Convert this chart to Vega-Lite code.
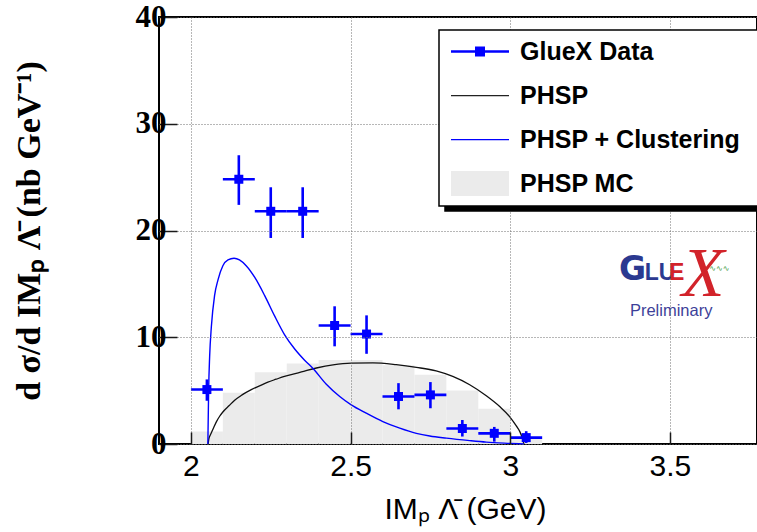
{
  "$schema": "https://vega.github.io/schema/vega-lite/v6.json",
  "width": 598,
  "height": 427,
  "autosize": "none",
  "padding": {"left": 159, "top": 17, "right": 0, "bottom": 88},
  "background": "white",
  "config": {
    "view": {"stroke": "black", "strokeWidth": 2},
    "legend": {"strokeWidth": 1.5}
  },
  "datasets": {
    "mc": [
      {"lo": 2.0, "hi": 2.1, "n": 1.16},
      {"lo": 2.1, "hi": 2.2, "n": 4.8},
      {"lo": 2.2, "hi": 2.3, "n": 6.72},
      {"lo": 2.3, "hi": 2.4, "n": 7.53},
      {"lo": 2.4, "hi": 2.5, "n": 7.88},
      {"lo": 2.5, "hi": 2.6, "n": 7.88},
      {"lo": 2.6, "hi": 2.7, "n": 7.37},
      {"lo": 2.7, "hi": 2.8, "n": 6.49},
      {"lo": 2.8, "hi": 2.9, "n": 5.02},
      {"lo": 2.9, "hi": 3.0, "n": 3.3},
      {"lo": 3.0, "hi": 3.1, "n": 0.5}
    ],
    "phsp": [
      {"im": 2.054, "v": 0}, {"im": 2.056, "v": 0.45}, {"im": 2.06, "v": 0.8}, {"im": 2.064, "v": 1.05},
      {"im": 2.072, "v": 1.6}, {"im": 2.08, "v": 2.1}, {"im": 2.09, "v": 2.6}, {"im": 2.1, "v": 3.0},
      {"im": 2.12, "v": 3.6}, {"im": 2.137, "v": 4.1}, {"im": 2.16, "v": 4.6}, {"im": 2.189, "v": 5.1},
      {"im": 2.215, "v": 5.45}, {"im": 2.241, "v": 5.8}, {"im": 2.267, "v": 6.07}, {"im": 2.293, "v": 6.33},
      {"im": 2.32, "v": 6.55}, {"im": 2.346, "v": 6.75}, {"im": 2.393, "v": 7.12}, {"im": 2.445, "v": 7.42},
      {"im": 2.502, "v": 7.58}, {"im": 2.57, "v": 7.6}, {"im": 2.643, "v": 7.43}, {"im": 2.706, "v": 7.18},
      {"im": 2.768, "v": 6.85}, {"im": 2.82, "v": 6.33}, {"im": 2.873, "v": 5.55}, {"im": 2.925, "v": 4.52},
      {"im": 2.967, "v": 3.51}, {"im": 2.998, "v": 2.57}, {"im": 3.019, "v": 1.69}, {"im": 3.03, "v": 1.16},
      {"im": 3.038, "v": 0.55}, {"im": 3.043, "v": 0}
    ],
    "clus": [
      {"im": 2.053, "v": 0}, {"im": 2.0555, "v": 5.1}, {"im": 2.0586, "v": 8.2}, {"im": 2.064, "v": 11.0},
      {"im": 2.074, "v": 13.9}, {"im": 2.085, "v": 15.4}, {"im": 2.1, "v": 16.7}, {"im": 2.116, "v": 17.25},
      {"im": 2.135, "v": 17.4}, {"im": 2.152, "v": 17.25}, {"im": 2.173, "v": 16.7}, {"im": 2.2, "v": 15.6},
      {"im": 2.231, "v": 13.9}, {"im": 2.262, "v": 12.0}, {"im": 2.293, "v": 10.25}, {"im": 2.325, "v": 8.9},
      {"im": 2.356, "v": 7.85}, {"im": 2.383, "v": 7.05}, {"im": 2.424, "v": 5.6}, {"im": 2.466, "v": 4.45},
      {"im": 2.502, "v": 3.67}, {"im": 2.549, "v": 2.89}, {"im": 2.601, "v": 2.1}, {"im": 2.654, "v": 1.48},
      {"im": 2.706, "v": 1.0}, {"im": 2.748, "v": 0.75}, {"im": 2.8, "v": 0.55}, {"im": 2.873, "v": 0.32},
      {"im": 2.925, "v": 0.18}, {"im": 3.0, "v": 0.06}, {"im": 3.043, "v": 0}
    ],
    "gluex": [
      {"im": 2.05, "lo": 2.0, "hi": 2.1, "xs": 5.1, "xsLo": 4.05, "xsHi": 6.05},
      {"im": 2.15, "lo": 2.1, "hi": 2.2, "xs": 24.8, "xsLo": 22.4, "xsHi": 27.05},
      {"im": 2.25, "lo": 2.2, "hi": 2.3, "xs": 21.8, "xsLo": 19.3, "xsHi": 24.05},
      {"im": 2.35, "lo": 2.3, "hi": 2.4, "xs": 21.8, "xsLo": 19.3, "xsHi": 24.05},
      {"im": 2.45, "lo": 2.4, "hi": 2.5, "xs": 11.1, "xsLo": 9.15, "xsHi": 12.9},
      {"im": 2.55, "lo": 2.5, "hi": 2.6, "xs": 10.3, "xsLo": 8.45, "xsHi": 12.05},
      {"im": 2.65, "lo": 2.6, "hi": 2.7, "xs": 4.45, "xsLo": 3.25, "xsHi": 5.7},
      {"im": 2.75, "lo": 2.7, "hi": 2.8, "xs": 4.6, "xsLo": 3.35, "xsHi": 5.8},
      {"im": 2.85, "lo": 2.8, "hi": 2.9, "xs": 1.45, "xsLo": 0.7, "xsHi": 2.25},
      {"im": 2.95, "lo": 2.9, "hi": 3.0, "xs": 1.0, "xsLo": 0.22, "xsHi": 1.6},
      {"im": 3.05, "lo": 3.0, "hi": 3.1, "xs": 0.6, "xsLo": 0.1, "xsHi": 1.2}
    ],
    "keys": [
      {"series": "GlueX Data"}, {"series": "PHSP"}, {"series": "PHSP + Clustering"}, {"series": "PHSP MC"}
    ],
    "keyShadow": [
      {"entry": "PHSP"}, {"entry": "GlueX Data"}, {"entry": "PHSP + Clustering"}, {"entry": "PHSP MC"}
    ]
  },
  "layer": [
    {
      "data": {"name": "mc"},
      "mark": {"type": "rect", "color": "#ebebeb"},
      "encoding": {
        "x": {
          "field": "lo", "type": "quantitative",
          "scale": {"domain": [1.9, 3.7728], "nice": false, "zero": false},
          "axis": {
            "values": [2, 2.5, 3, 3.5], "format": "~g",
            "grid": true, "gridColor": "#6e6e6e", "gridDash": [1, 2], "gridWidth": 1,
            "domain": false,
            "tickSize": -12, "tickColor": "#1a1a1a", "tickWidth": 1.5,
            "labelFont": "Liberation Sans Narrow, Liberation Sans, sans-serif", "labelFontSize": 30, "labelColor": "black",
            "labelPadding": 19, "labelFlush": false, "labelOverlap": false,
            "title": "IMₚ Λ̄ (GeV)", "titleFont": "Liberation Sans Narrow, Liberation Sans, sans-serif", "titleFontSize": 30,
            "titleFontWeight": "normal", "titleColor": "black",
            "titleX": 306, "titleY": 74, "titleAlign": "center", "titleBaseline": "alphabetic",
            "zindex": 1
          }
        },
        "x2": {"field": "hi"},
        "y": {
          "field": "n", "type": "quantitative",
          "scale": {"domain": [0, 40], "nice": false},
          "axis": {
            "values": [0, 10, 20, 30, 40],
            "grid": true, "gridColor": "#6e6e6e", "gridDash": [1, 2], "gridWidth": 1,
            "domain": false,
            "tickSize": -18, "tickColor": "#1a1a1a", "tickWidth": 1.5,
            "labelFont": "Liberation Serif", "labelFontWeight": "bold", "labelFontSize": 31, "labelColor": "black",
            "labelPadding": 11, "labelFlush": false, "labelOverlap": false,
            "title": "d  σ/d IMₚ Λ̄ (nb GeV⁻¹)", "titleFont": "Liberation Serif", "titleFontWeight": "bold",
            "titleFontSize": 34, "titleColor": "black",
            "titleX": -130, "titleY": 213.5, "titleAlign": "center", "titleBaseline": "middle", "titleAngle": -90,
            "zindex": 1
          }
        },
        "y2": {"datum": 0}
      }
    },
    {
      "data": {"name": "phsp"},
      "mark": {"type": "line", "color": "#111111", "strokeWidth": 1.3, "interpolate": "monotone"},
      "encoding": {
        "x": {"field": "im", "type": "quantitative", "scale": {"domain": [1.9, 3.7728], "nice": false, "zero": false}},
        "y": {"field": "v", "type": "quantitative", "scale": {"domain": [0, 40], "nice": false}}
      }
    },
    {
      "data": {"name": "clus"},
      "mark": {"type": "line", "color": "#0000ff", "strokeWidth": 1.4, "interpolate": "monotone"},
      "encoding": {
        "x": {"field": "im", "type": "quantitative", "scale": {"domain": [1.9, 3.7728], "nice": false, "zero": false}},
        "y": {"field": "v", "type": "quantitative", "scale": {"domain": [0, 40], "nice": false}}
      }
    },
    {
      "data": {"name": "gluex"},
      "mark": {"type": "rule", "color": "#0000ff", "strokeWidth": 2.6},
      "encoding": {
        "x": {"field": "lo", "type": "quantitative", "scale": {"domain": [1.9, 3.7728], "nice": false, "zero": false}},
        "x2": {"field": "hi"},
        "y": {"field": "xs", "type": "quantitative", "scale": {"domain": [0, 40], "nice": false}}
      }
    },
    {
      "data": {"name": "gluex"},
      "mark": {"type": "rule", "color": "#0000ff", "strokeWidth": 2.6},
      "encoding": {
        "x": {"field": "im", "type": "quantitative", "scale": {"domain": [1.9, 3.7728], "nice": false, "zero": false}},
        "y": {"field": "xsLo", "type": "quantitative", "scale": {"domain": [0, 40], "nice": false}},
        "y2": {"field": "xsHi"}
      }
    },
    {
      "data": {"name": "gluex"},
      "mark": {"type": "square", "color": "#0000ff", "size": 81, "opacity": 1},
      "encoding": {
        "x": {"field": "im", "type": "quantitative", "scale": {"domain": [1.9, 3.7728], "nice": false, "zero": false}},
        "y": {"field": "xs", "type": "quantitative", "scale": {"domain": [0, 40], "nice": false}}
      }
    },
    {
      "data": {"values": [{}]},
      "mark": {"type": "text", "text": "∿∿∿", "font": "DejaVu Sans", "fontSize": 8, "color": "#3a9a3a", "align": "center", "baseline": "alphabetic"},
      "encoding": {"x": {"datum": 3.655, "type": "quantitative"}, "y": {"datum": 16.2, "type": "quantitative"}}
    },
    {
      "data": {"values": [{}]},
      "mark": {"type": "text", "text": "G", "font": "DejaVu Sans", "fontWeight": "bold", "fontSize": 33, "color": "#2b3990", "align": "center", "baseline": "alphabetic"},
      "encoding": {"x": {"datum": 3.383, "type": "quantitative"}, "y": {"datum": 15.33, "type": "quantitative"}}
    },
    {
      "data": {"values": [{}]},
      "mark": {"type": "text", "text": "LU", "font": "Liberation Sans Narrow, Liberation Sans", "fontWeight": "bold", "fontSize": 23, "color": "#2b3990", "align": "center", "baseline": "alphabetic"},
      "encoding": {"x": {"datum": 3.469, "type": "quantitative"}, "y": {"datum": 15.33, "type": "quantitative"}}
    },
    {
      "data": {"values": [{}]},
      "mark": {"type": "text", "text": "E", "font": "Liberation Sans Narrow, Liberation Sans", "fontWeight": "bold", "fontSize": 23, "color": "#d2232a", "align": "center", "baseline": "alphabetic"},
      "encoding": {"x": {"datum": 3.521, "type": "quantitative"}, "y": {"datum": 15.33, "type": "quantitative"}}
    },
    {
      "data": {"values": [{}]},
      "mark": {"type": "text", "text": "X", "font": "Liberation Serif", "fontStyle": "italic", "fontSize": 70, "color": "#d2232a", "align": "center", "baseline": "alphabetic"},
      "encoding": {"x": {"datum": 3.604, "type": "quantitative"}, "y": {"datum": 13.83, "type": "quantitative"}}
    },
    {
      "data": {"values": [{}]},
      "mark": {"type": "text", "text": "Preliminary", "font": "Liberation Sans", "fontSize": 16.5, "color": "#3d3f99", "align": "center", "baseline": "alphabetic"},
      "encoding": {"x": {"datum": 3.504, "type": "quantitative"}, "y": {"datum": 11.95, "type": "quantitative"}}
    },
    {
      "data": {"name": "keyShadow"},
      "mark": {"type": "point", "filled": true, "opacity": 0},
      "encoding": {
        "stroke": {
          "field": "entry", "type": "nominal",
          "scale": {"domain": ["PHSP", "GlueX Data", "PHSP + Clustering", "PHSP MC"], "range": ["black", "black", "black", "black"]},
          "legend": {
            "title": null, "orient": "none", "legendX": 286, "legendY": 18,
            "fillColor": "black", "strokeColor": "black", "padding": 9, "rowPadding": 18,
            "labelExpr": "''", "labelFontSize": 25, "labelOffset": 47,
            "symbolSize": 625, "symbolType": "M-0.76,-1.0H3.88V1.0H-0.76Z M24,0L24.01,0Z",
            "symbolOpacity": 0, "symbolStrokeWidth": 0, "zindex": 2
          }
        }
      }
    },
    {
      "data": {"name": "keys"},
      "mark": {"type": "point", "filled": true, "clip": true, "opacity": 1},
      "encoding": {
        "x": {"datum": 1.0, "type": "quantitative", "scale": {"domain": [1.9, 3.7728], "nice": false, "zero": false}},
        "y": {"datum": -10, "type": "quantitative", "scale": {"domain": [0, 40], "nice": false}},
        "color": {
          "field": "series", "type": "nominal",
          "scale": {"domain": ["GlueX Data", "PHSP", "PHSP + Clustering", "PHSP MC"], "range": ["#0000ff", "#222222", "#0000ff", "#ebebeb"]},
          "legend": {
            "title": null, "orient": "none", "legendX": 280, "legendY": 13,
            "fillColor": "white", "strokeColor": "black", "padding": 9, "rowPadding": 18,
            "labelFont": "Liberation Sans", "labelFontSize": 25, "labelFontWeight": "bold", "labelColor": "black",
            "labelOffset": 47, "labelLimit": 400,
            "symbolSize": 625, "symbolOpacity": 1, "symbolStrokeWidth": 0, "zindex": 3
          }
        },
        "shape": {
          "field": "series", "type": "nominal",
          "scale": {
            "domain": ["GlueX Data", "PHSP", "PHSP + Clustering", "PHSP MC"],
            "range": [
              "M-0.76,-0.1H3.88V0.1H-0.76Z M1.16,-0.4H1.96V0.4H1.16Z M24,0L24.01,0Z",
              "M-0.76,-0.05H3.88V0.05H-0.76Z M24,0L24.01,0Z",
              "M-0.76,-0.05H3.88V0.05H-0.76Z M24,0L24.01,0Z",
              "M-0.76,-1.0H3.88V1.0H-0.76Z M24,0L24.01,0Z"
            ]
          }
        }
      }
    }
  ]
}
